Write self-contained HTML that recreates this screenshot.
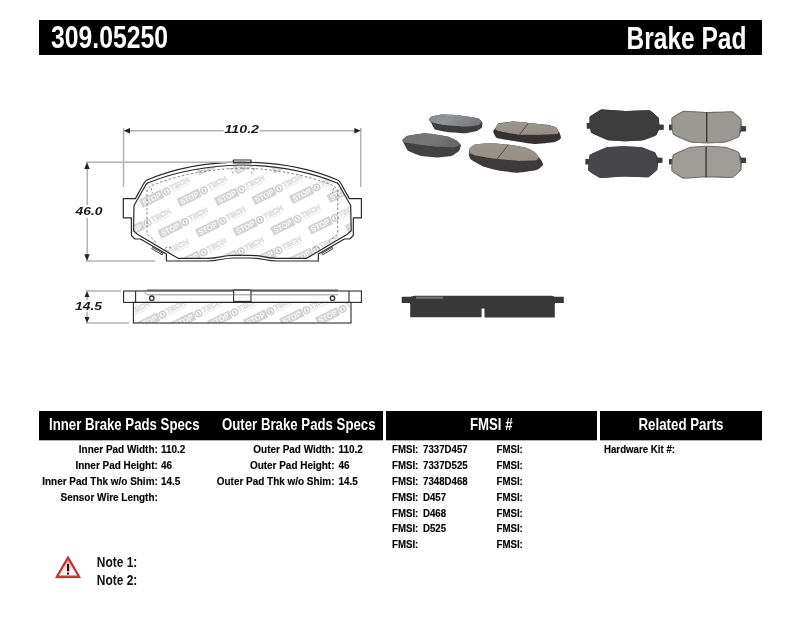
<!DOCTYPE html>
<html><head><meta charset="utf-8"><title>309.05250 Brake Pad</title>
<style>html,body{margin:0;padding:0;background:#fff;width:800px;height:619px;overflow:hidden}svg{display:block;will-change:transform}</style>
</head><body><svg width="800" height="619" viewBox="0 0 800 619" font-family='"Liberation Sans", sans-serif'><rect x="39" y="20" width="723" height="35" fill="#000"/><text x="51" y="47.6" font-size="30.5" font-weight="bold" font-style="normal" text-anchor="start" fill="#fff" textLength="117" lengthAdjust="spacingAndGlyphs">309.05250</text><text x="626.5" y="48.8" font-size="30.5" font-weight="bold" font-style="normal" text-anchor="start" fill="#fff" textLength="120" lengthAdjust="spacingAndGlyphs">Brake Pad</text><defs><clipPath id="padclip"><path d="M242.35 165 C210 165.5 176 171.5 147.5 183 L146 184.5 L134 205.5 L133.5 230.8 L137.4 234.2 L178 258.3 L207 258.3 C220 258.3 221 255.3 234 255.3 L242.35 255.3 Z"/><path d="M 242.35 165.00 C 274.70 165.50 308.70 171.50 337.20 183.00 L 338.70 184.50 L 350.70 205.50 L 351.20 230.80 L 347.30 234.20 L 306.70 258.30 L 277.70 258.30 C 264.70 258.30 263.70 255.30 250.70 255.30 L 242.35 255.30 Z"/></clipPath><clipPath id="sideclip"><rect x="133.4" y="302.4" width="217.6" height="20.6"/></clipPath></defs><g clip-path="url(#padclip)" font-family='"Liberation Sans", sans-serif'><g transform="translate(110.5 161.9) rotate(-26)"><rect x="-28.5" y="-4.3" width="24" height="8.8" fill="#d3d3d3"/><text x="-16.5" y="2.8" font-size="7.6" font-weight="bold" text-anchor="middle" fill="#fafafa" textLength="20" lengthAdjust="spacingAndGlyphs">STOP</text><circle cx="0" cy="0" r="3.3" fill="none" stroke="#cdcdcd" stroke-width="1.4"/><ellipse cx="0" cy="0" rx="1" ry="2" fill="#c4c4c4"/><text x="4.6" y="1.2" font-size="7.2" font-weight="bold" fill="#fff" stroke="#d2d2d2" stroke-width="0.55" textLength="21" lengthAdjust="spacingAndGlyphs">TECH</text><rect x="5" y="2.6" width="19" height="1.1" fill="#ebebeb"/></g><g transform="translate(148.0 160.9) rotate(-26)"><rect x="-28.5" y="-4.3" width="24" height="8.8" fill="#d3d3d3"/><text x="-16.5" y="2.8" font-size="7.6" font-weight="bold" text-anchor="middle" fill="#fafafa" textLength="20" lengthAdjust="spacingAndGlyphs">STOP</text><circle cx="0" cy="0" r="3.3" fill="none" stroke="#cdcdcd" stroke-width="1.4"/><ellipse cx="0" cy="0" rx="1" ry="2" fill="#c4c4c4"/><text x="4.6" y="1.2" font-size="7.2" font-weight="bold" fill="#fff" stroke="#d2d2d2" stroke-width="0.55" textLength="21" lengthAdjust="spacingAndGlyphs">TECH</text><rect x="5" y="2.6" width="19" height="1.1" fill="#ebebeb"/></g><g transform="translate(185.5 159.9) rotate(-26)"><rect x="-28.5" y="-4.3" width="24" height="8.8" fill="#d3d3d3"/><text x="-16.5" y="2.8" font-size="7.6" font-weight="bold" text-anchor="middle" fill="#fafafa" textLength="20" lengthAdjust="spacingAndGlyphs">STOP</text><circle cx="0" cy="0" r="3.3" fill="none" stroke="#cdcdcd" stroke-width="1.4"/><ellipse cx="0" cy="0" rx="1" ry="2" fill="#c4c4c4"/><text x="4.6" y="1.2" font-size="7.2" font-weight="bold" fill="#fff" stroke="#d2d2d2" stroke-width="0.55" textLength="21" lengthAdjust="spacingAndGlyphs">TECH</text><rect x="5" y="2.6" width="19" height="1.1" fill="#ebebeb"/></g><g transform="translate(223.0 158.9) rotate(-26)"><rect x="-28.5" y="-4.3" width="24" height="8.8" fill="#d3d3d3"/><text x="-16.5" y="2.8" font-size="7.6" font-weight="bold" text-anchor="middle" fill="#fafafa" textLength="20" lengthAdjust="spacingAndGlyphs">STOP</text><circle cx="0" cy="0" r="3.3" fill="none" stroke="#cdcdcd" stroke-width="1.4"/><ellipse cx="0" cy="0" rx="1" ry="2" fill="#c4c4c4"/><text x="4.6" y="1.2" font-size="7.2" font-weight="bold" fill="#fff" stroke="#d2d2d2" stroke-width="0.55" textLength="21" lengthAdjust="spacingAndGlyphs">TECH</text><rect x="5" y="2.6" width="19" height="1.1" fill="#ebebeb"/></g><g transform="translate(260.5 157.9) rotate(-26)"><rect x="-28.5" y="-4.3" width="24" height="8.8" fill="#d3d3d3"/><text x="-16.5" y="2.8" font-size="7.6" font-weight="bold" text-anchor="middle" fill="#fafafa" textLength="20" lengthAdjust="spacingAndGlyphs">STOP</text><circle cx="0" cy="0" r="3.3" fill="none" stroke="#cdcdcd" stroke-width="1.4"/><ellipse cx="0" cy="0" rx="1" ry="2" fill="#c4c4c4"/><text x="4.6" y="1.2" font-size="7.2" font-weight="bold" fill="#fff" stroke="#d2d2d2" stroke-width="0.55" textLength="21" lengthAdjust="spacingAndGlyphs">TECH</text><rect x="5" y="2.6" width="19" height="1.1" fill="#ebebeb"/></g><g transform="translate(298.0 156.9) rotate(-26)"><rect x="-28.5" y="-4.3" width="24" height="8.8" fill="#d3d3d3"/><text x="-16.5" y="2.8" font-size="7.6" font-weight="bold" text-anchor="middle" fill="#fafafa" textLength="20" lengthAdjust="spacingAndGlyphs">STOP</text><circle cx="0" cy="0" r="3.3" fill="none" stroke="#cdcdcd" stroke-width="1.4"/><ellipse cx="0" cy="0" rx="1" ry="2" fill="#c4c4c4"/><text x="4.6" y="1.2" font-size="7.2" font-weight="bold" fill="#fff" stroke="#d2d2d2" stroke-width="0.55" textLength="21" lengthAdjust="spacingAndGlyphs">TECH</text><rect x="5" y="2.6" width="19" height="1.1" fill="#ebebeb"/></g><g transform="translate(335.5 155.9) rotate(-26)"><rect x="-28.5" y="-4.3" width="24" height="8.8" fill="#d3d3d3"/><text x="-16.5" y="2.8" font-size="7.6" font-weight="bold" text-anchor="middle" fill="#fafafa" textLength="20" lengthAdjust="spacingAndGlyphs">STOP</text><circle cx="0" cy="0" r="3.3" fill="none" stroke="#cdcdcd" stroke-width="1.4"/><ellipse cx="0" cy="0" rx="1" ry="2" fill="#c4c4c4"/><text x="4.6" y="1.2" font-size="7.2" font-weight="bold" fill="#fff" stroke="#d2d2d2" stroke-width="0.55" textLength="21" lengthAdjust="spacingAndGlyphs">TECH</text><rect x="5" y="2.6" width="19" height="1.1" fill="#ebebeb"/></g><g transform="translate(373.0 154.9) rotate(-26)"><rect x="-28.5" y="-4.3" width="24" height="8.8" fill="#d3d3d3"/><text x="-16.5" y="2.8" font-size="7.6" font-weight="bold" text-anchor="middle" fill="#fafafa" textLength="20" lengthAdjust="spacingAndGlyphs">STOP</text><circle cx="0" cy="0" r="3.3" fill="none" stroke="#cdcdcd" stroke-width="1.4"/><ellipse cx="0" cy="0" rx="1" ry="2" fill="#c4c4c4"/><text x="4.6" y="1.2" font-size="7.2" font-weight="bold" fill="#fff" stroke="#d2d2d2" stroke-width="0.55" textLength="21" lengthAdjust="spacingAndGlyphs">TECH</text><rect x="5" y="2.6" width="19" height="1.1" fill="#ebebeb"/></g><g transform="translate(91.5 193.4) rotate(-26)"><rect x="-28.5" y="-4.3" width="24" height="8.8" fill="#d3d3d3"/><text x="-16.5" y="2.8" font-size="7.6" font-weight="bold" text-anchor="middle" fill="#fafafa" textLength="20" lengthAdjust="spacingAndGlyphs">STOP</text><circle cx="0" cy="0" r="3.3" fill="none" stroke="#cdcdcd" stroke-width="1.4"/><ellipse cx="0" cy="0" rx="1" ry="2" fill="#c4c4c4"/><text x="4.6" y="1.2" font-size="7.2" font-weight="bold" fill="#fff" stroke="#d2d2d2" stroke-width="0.55" textLength="21" lengthAdjust="spacingAndGlyphs">TECH</text><rect x="5" y="2.6" width="19" height="1.1" fill="#ebebeb"/></g><g transform="translate(129.0 192.4) rotate(-26)"><rect x="-28.5" y="-4.3" width="24" height="8.8" fill="#d3d3d3"/><text x="-16.5" y="2.8" font-size="7.6" font-weight="bold" text-anchor="middle" fill="#fafafa" textLength="20" lengthAdjust="spacingAndGlyphs">STOP</text><circle cx="0" cy="0" r="3.3" fill="none" stroke="#cdcdcd" stroke-width="1.4"/><ellipse cx="0" cy="0" rx="1" ry="2" fill="#c4c4c4"/><text x="4.6" y="1.2" font-size="7.2" font-weight="bold" fill="#fff" stroke="#d2d2d2" stroke-width="0.55" textLength="21" lengthAdjust="spacingAndGlyphs">TECH</text><rect x="5" y="2.6" width="19" height="1.1" fill="#ebebeb"/></g><g transform="translate(166.5 191.4) rotate(-26)"><rect x="-28.5" y="-4.3" width="24" height="8.8" fill="#d3d3d3"/><text x="-16.5" y="2.8" font-size="7.6" font-weight="bold" text-anchor="middle" fill="#fafafa" textLength="20" lengthAdjust="spacingAndGlyphs">STOP</text><circle cx="0" cy="0" r="3.3" fill="none" stroke="#cdcdcd" stroke-width="1.4"/><ellipse cx="0" cy="0" rx="1" ry="2" fill="#c4c4c4"/><text x="4.6" y="1.2" font-size="7.2" font-weight="bold" fill="#fff" stroke="#d2d2d2" stroke-width="0.55" textLength="21" lengthAdjust="spacingAndGlyphs">TECH</text><rect x="5" y="2.6" width="19" height="1.1" fill="#ebebeb"/></g><g transform="translate(204.0 190.4) rotate(-26)"><rect x="-28.5" y="-4.3" width="24" height="8.8" fill="#d3d3d3"/><text x="-16.5" y="2.8" font-size="7.6" font-weight="bold" text-anchor="middle" fill="#fafafa" textLength="20" lengthAdjust="spacingAndGlyphs">STOP</text><circle cx="0" cy="0" r="3.3" fill="none" stroke="#cdcdcd" stroke-width="1.4"/><ellipse cx="0" cy="0" rx="1" ry="2" fill="#c4c4c4"/><text x="4.6" y="1.2" font-size="7.2" font-weight="bold" fill="#fff" stroke="#d2d2d2" stroke-width="0.55" textLength="21" lengthAdjust="spacingAndGlyphs">TECH</text><rect x="5" y="2.6" width="19" height="1.1" fill="#ebebeb"/></g><g transform="translate(241.5 189.4) rotate(-26)"><rect x="-28.5" y="-4.3" width="24" height="8.8" fill="#d3d3d3"/><text x="-16.5" y="2.8" font-size="7.6" font-weight="bold" text-anchor="middle" fill="#fafafa" textLength="20" lengthAdjust="spacingAndGlyphs">STOP</text><circle cx="0" cy="0" r="3.3" fill="none" stroke="#cdcdcd" stroke-width="1.4"/><ellipse cx="0" cy="0" rx="1" ry="2" fill="#c4c4c4"/><text x="4.6" y="1.2" font-size="7.2" font-weight="bold" fill="#fff" stroke="#d2d2d2" stroke-width="0.55" textLength="21" lengthAdjust="spacingAndGlyphs">TECH</text><rect x="5" y="2.6" width="19" height="1.1" fill="#ebebeb"/></g><g transform="translate(279.0 188.4) rotate(-26)"><rect x="-28.5" y="-4.3" width="24" height="8.8" fill="#d3d3d3"/><text x="-16.5" y="2.8" font-size="7.6" font-weight="bold" text-anchor="middle" fill="#fafafa" textLength="20" lengthAdjust="spacingAndGlyphs">STOP</text><circle cx="0" cy="0" r="3.3" fill="none" stroke="#cdcdcd" stroke-width="1.4"/><ellipse cx="0" cy="0" rx="1" ry="2" fill="#c4c4c4"/><text x="4.6" y="1.2" font-size="7.2" font-weight="bold" fill="#fff" stroke="#d2d2d2" stroke-width="0.55" textLength="21" lengthAdjust="spacingAndGlyphs">TECH</text><rect x="5" y="2.6" width="19" height="1.1" fill="#ebebeb"/></g><g transform="translate(316.5 187.4) rotate(-26)"><rect x="-28.5" y="-4.3" width="24" height="8.8" fill="#d3d3d3"/><text x="-16.5" y="2.8" font-size="7.6" font-weight="bold" text-anchor="middle" fill="#fafafa" textLength="20" lengthAdjust="spacingAndGlyphs">STOP</text><circle cx="0" cy="0" r="3.3" fill="none" stroke="#cdcdcd" stroke-width="1.4"/><ellipse cx="0" cy="0" rx="1" ry="2" fill="#c4c4c4"/><text x="4.6" y="1.2" font-size="7.2" font-weight="bold" fill="#fff" stroke="#d2d2d2" stroke-width="0.55" textLength="21" lengthAdjust="spacingAndGlyphs">TECH</text><rect x="5" y="2.6" width="19" height="1.1" fill="#ebebeb"/></g><g transform="translate(354.0 186.4) rotate(-26)"><rect x="-28.5" y="-4.3" width="24" height="8.8" fill="#d3d3d3"/><text x="-16.5" y="2.8" font-size="7.6" font-weight="bold" text-anchor="middle" fill="#fafafa" textLength="20" lengthAdjust="spacingAndGlyphs">STOP</text><circle cx="0" cy="0" r="3.3" fill="none" stroke="#cdcdcd" stroke-width="1.4"/><ellipse cx="0" cy="0" rx="1" ry="2" fill="#c4c4c4"/><text x="4.6" y="1.2" font-size="7.2" font-weight="bold" fill="#fff" stroke="#d2d2d2" stroke-width="0.55" textLength="21" lengthAdjust="spacingAndGlyphs">TECH</text><rect x="5" y="2.6" width="19" height="1.1" fill="#ebebeb"/></g><g transform="translate(391.5 185.4) rotate(-26)"><rect x="-28.5" y="-4.3" width="24" height="8.8" fill="#d3d3d3"/><text x="-16.5" y="2.8" font-size="7.6" font-weight="bold" text-anchor="middle" fill="#fafafa" textLength="20" lengthAdjust="spacingAndGlyphs">STOP</text><circle cx="0" cy="0" r="3.3" fill="none" stroke="#cdcdcd" stroke-width="1.4"/><ellipse cx="0" cy="0" rx="1" ry="2" fill="#c4c4c4"/><text x="4.6" y="1.2" font-size="7.2" font-weight="bold" fill="#fff" stroke="#d2d2d2" stroke-width="0.55" textLength="21" lengthAdjust="spacingAndGlyphs">TECH</text><rect x="5" y="2.6" width="19" height="1.1" fill="#ebebeb"/></g><g transform="translate(110.0 223.9) rotate(-26)"><rect x="-28.5" y="-4.3" width="24" height="8.8" fill="#d3d3d3"/><text x="-16.5" y="2.8" font-size="7.6" font-weight="bold" text-anchor="middle" fill="#fafafa" textLength="20" lengthAdjust="spacingAndGlyphs">STOP</text><circle cx="0" cy="0" r="3.3" fill="none" stroke="#cdcdcd" stroke-width="1.4"/><ellipse cx="0" cy="0" rx="1" ry="2" fill="#c4c4c4"/><text x="4.6" y="1.2" font-size="7.2" font-weight="bold" fill="#fff" stroke="#d2d2d2" stroke-width="0.55" textLength="21" lengthAdjust="spacingAndGlyphs">TECH</text><rect x="5" y="2.6" width="19" height="1.1" fill="#ebebeb"/></g><g transform="translate(147.5 222.9) rotate(-26)"><rect x="-28.5" y="-4.3" width="24" height="8.8" fill="#d3d3d3"/><text x="-16.5" y="2.8" font-size="7.6" font-weight="bold" text-anchor="middle" fill="#fafafa" textLength="20" lengthAdjust="spacingAndGlyphs">STOP</text><circle cx="0" cy="0" r="3.3" fill="none" stroke="#cdcdcd" stroke-width="1.4"/><ellipse cx="0" cy="0" rx="1" ry="2" fill="#c4c4c4"/><text x="4.6" y="1.2" font-size="7.2" font-weight="bold" fill="#fff" stroke="#d2d2d2" stroke-width="0.55" textLength="21" lengthAdjust="spacingAndGlyphs">TECH</text><rect x="5" y="2.6" width="19" height="1.1" fill="#ebebeb"/></g><g transform="translate(185.0 221.9) rotate(-26)"><rect x="-28.5" y="-4.3" width="24" height="8.8" fill="#d3d3d3"/><text x="-16.5" y="2.8" font-size="7.6" font-weight="bold" text-anchor="middle" fill="#fafafa" textLength="20" lengthAdjust="spacingAndGlyphs">STOP</text><circle cx="0" cy="0" r="3.3" fill="none" stroke="#cdcdcd" stroke-width="1.4"/><ellipse cx="0" cy="0" rx="1" ry="2" fill="#c4c4c4"/><text x="4.6" y="1.2" font-size="7.2" font-weight="bold" fill="#fff" stroke="#d2d2d2" stroke-width="0.55" textLength="21" lengthAdjust="spacingAndGlyphs">TECH</text><rect x="5" y="2.6" width="19" height="1.1" fill="#ebebeb"/></g><g transform="translate(222.5 220.9) rotate(-26)"><rect x="-28.5" y="-4.3" width="24" height="8.8" fill="#d3d3d3"/><text x="-16.5" y="2.8" font-size="7.6" font-weight="bold" text-anchor="middle" fill="#fafafa" textLength="20" lengthAdjust="spacingAndGlyphs">STOP</text><circle cx="0" cy="0" r="3.3" fill="none" stroke="#cdcdcd" stroke-width="1.4"/><ellipse cx="0" cy="0" rx="1" ry="2" fill="#c4c4c4"/><text x="4.6" y="1.2" font-size="7.2" font-weight="bold" fill="#fff" stroke="#d2d2d2" stroke-width="0.55" textLength="21" lengthAdjust="spacingAndGlyphs">TECH</text><rect x="5" y="2.6" width="19" height="1.1" fill="#ebebeb"/></g><g transform="translate(260.0 219.9) rotate(-26)"><rect x="-28.5" y="-4.3" width="24" height="8.8" fill="#d3d3d3"/><text x="-16.5" y="2.8" font-size="7.6" font-weight="bold" text-anchor="middle" fill="#fafafa" textLength="20" lengthAdjust="spacingAndGlyphs">STOP</text><circle cx="0" cy="0" r="3.3" fill="none" stroke="#cdcdcd" stroke-width="1.4"/><ellipse cx="0" cy="0" rx="1" ry="2" fill="#c4c4c4"/><text x="4.6" y="1.2" font-size="7.2" font-weight="bold" fill="#fff" stroke="#d2d2d2" stroke-width="0.55" textLength="21" lengthAdjust="spacingAndGlyphs">TECH</text><rect x="5" y="2.6" width="19" height="1.1" fill="#ebebeb"/></g><g transform="translate(297.5 218.9) rotate(-26)"><rect x="-28.5" y="-4.3" width="24" height="8.8" fill="#d3d3d3"/><text x="-16.5" y="2.8" font-size="7.6" font-weight="bold" text-anchor="middle" fill="#fafafa" textLength="20" lengthAdjust="spacingAndGlyphs">STOP</text><circle cx="0" cy="0" r="3.3" fill="none" stroke="#cdcdcd" stroke-width="1.4"/><ellipse cx="0" cy="0" rx="1" ry="2" fill="#c4c4c4"/><text x="4.6" y="1.2" font-size="7.2" font-weight="bold" fill="#fff" stroke="#d2d2d2" stroke-width="0.55" textLength="21" lengthAdjust="spacingAndGlyphs">TECH</text><rect x="5" y="2.6" width="19" height="1.1" fill="#ebebeb"/></g><g transform="translate(335.0 217.9) rotate(-26)"><rect x="-28.5" y="-4.3" width="24" height="8.8" fill="#d3d3d3"/><text x="-16.5" y="2.8" font-size="7.6" font-weight="bold" text-anchor="middle" fill="#fafafa" textLength="20" lengthAdjust="spacingAndGlyphs">STOP</text><circle cx="0" cy="0" r="3.3" fill="none" stroke="#cdcdcd" stroke-width="1.4"/><ellipse cx="0" cy="0" rx="1" ry="2" fill="#c4c4c4"/><text x="4.6" y="1.2" font-size="7.2" font-weight="bold" fill="#fff" stroke="#d2d2d2" stroke-width="0.55" textLength="21" lengthAdjust="spacingAndGlyphs">TECH</text><rect x="5" y="2.6" width="19" height="1.1" fill="#ebebeb"/></g><g transform="translate(372.5 216.9) rotate(-26)"><rect x="-28.5" y="-4.3" width="24" height="8.8" fill="#d3d3d3"/><text x="-16.5" y="2.8" font-size="7.6" font-weight="bold" text-anchor="middle" fill="#fafafa" textLength="20" lengthAdjust="spacingAndGlyphs">STOP</text><circle cx="0" cy="0" r="3.3" fill="none" stroke="#cdcdcd" stroke-width="1.4"/><ellipse cx="0" cy="0" rx="1" ry="2" fill="#c4c4c4"/><text x="4.6" y="1.2" font-size="7.2" font-weight="bold" fill="#fff" stroke="#d2d2d2" stroke-width="0.55" textLength="21" lengthAdjust="spacingAndGlyphs">TECH</text><rect x="5" y="2.6" width="19" height="1.1" fill="#ebebeb"/></g><g transform="translate(91.0 255.4) rotate(-26)"><rect x="-28.5" y="-4.3" width="24" height="8.8" fill="#d3d3d3"/><text x="-16.5" y="2.8" font-size="7.6" font-weight="bold" text-anchor="middle" fill="#fafafa" textLength="20" lengthAdjust="spacingAndGlyphs">STOP</text><circle cx="0" cy="0" r="3.3" fill="none" stroke="#cdcdcd" stroke-width="1.4"/><ellipse cx="0" cy="0" rx="1" ry="2" fill="#c4c4c4"/><text x="4.6" y="1.2" font-size="7.2" font-weight="bold" fill="#fff" stroke="#d2d2d2" stroke-width="0.55" textLength="21" lengthAdjust="spacingAndGlyphs">TECH</text><rect x="5" y="2.6" width="19" height="1.1" fill="#ebebeb"/></g><g transform="translate(128.5 254.4) rotate(-26)"><rect x="-28.5" y="-4.3" width="24" height="8.8" fill="#d3d3d3"/><text x="-16.5" y="2.8" font-size="7.6" font-weight="bold" text-anchor="middle" fill="#fafafa" textLength="20" lengthAdjust="spacingAndGlyphs">STOP</text><circle cx="0" cy="0" r="3.3" fill="none" stroke="#cdcdcd" stroke-width="1.4"/><ellipse cx="0" cy="0" rx="1" ry="2" fill="#c4c4c4"/><text x="4.6" y="1.2" font-size="7.2" font-weight="bold" fill="#fff" stroke="#d2d2d2" stroke-width="0.55" textLength="21" lengthAdjust="spacingAndGlyphs">TECH</text><rect x="5" y="2.6" width="19" height="1.1" fill="#ebebeb"/></g><g transform="translate(166.0 253.4) rotate(-26)"><rect x="-28.5" y="-4.3" width="24" height="8.8" fill="#d3d3d3"/><text x="-16.5" y="2.8" font-size="7.6" font-weight="bold" text-anchor="middle" fill="#fafafa" textLength="20" lengthAdjust="spacingAndGlyphs">STOP</text><circle cx="0" cy="0" r="3.3" fill="none" stroke="#cdcdcd" stroke-width="1.4"/><ellipse cx="0" cy="0" rx="1" ry="2" fill="#c4c4c4"/><text x="4.6" y="1.2" font-size="7.2" font-weight="bold" fill="#fff" stroke="#d2d2d2" stroke-width="0.55" textLength="21" lengthAdjust="spacingAndGlyphs">TECH</text><rect x="5" y="2.6" width="19" height="1.1" fill="#ebebeb"/></g><g transform="translate(203.5 252.4) rotate(-26)"><rect x="-28.5" y="-4.3" width="24" height="8.8" fill="#d3d3d3"/><text x="-16.5" y="2.8" font-size="7.6" font-weight="bold" text-anchor="middle" fill="#fafafa" textLength="20" lengthAdjust="spacingAndGlyphs">STOP</text><circle cx="0" cy="0" r="3.3" fill="none" stroke="#cdcdcd" stroke-width="1.4"/><ellipse cx="0" cy="0" rx="1" ry="2" fill="#c4c4c4"/><text x="4.6" y="1.2" font-size="7.2" font-weight="bold" fill="#fff" stroke="#d2d2d2" stroke-width="0.55" textLength="21" lengthAdjust="spacingAndGlyphs">TECH</text><rect x="5" y="2.6" width="19" height="1.1" fill="#ebebeb"/></g><g transform="translate(241.0 251.4) rotate(-26)"><rect x="-28.5" y="-4.3" width="24" height="8.8" fill="#d3d3d3"/><text x="-16.5" y="2.8" font-size="7.6" font-weight="bold" text-anchor="middle" fill="#fafafa" textLength="20" lengthAdjust="spacingAndGlyphs">STOP</text><circle cx="0" cy="0" r="3.3" fill="none" stroke="#cdcdcd" stroke-width="1.4"/><ellipse cx="0" cy="0" rx="1" ry="2" fill="#c4c4c4"/><text x="4.6" y="1.2" font-size="7.2" font-weight="bold" fill="#fff" stroke="#d2d2d2" stroke-width="0.55" textLength="21" lengthAdjust="spacingAndGlyphs">TECH</text><rect x="5" y="2.6" width="19" height="1.1" fill="#ebebeb"/></g><g transform="translate(278.5 250.4) rotate(-26)"><rect x="-28.5" y="-4.3" width="24" height="8.8" fill="#d3d3d3"/><text x="-16.5" y="2.8" font-size="7.6" font-weight="bold" text-anchor="middle" fill="#fafafa" textLength="20" lengthAdjust="spacingAndGlyphs">STOP</text><circle cx="0" cy="0" r="3.3" fill="none" stroke="#cdcdcd" stroke-width="1.4"/><ellipse cx="0" cy="0" rx="1" ry="2" fill="#c4c4c4"/><text x="4.6" y="1.2" font-size="7.2" font-weight="bold" fill="#fff" stroke="#d2d2d2" stroke-width="0.55" textLength="21" lengthAdjust="spacingAndGlyphs">TECH</text><rect x="5" y="2.6" width="19" height="1.1" fill="#ebebeb"/></g><g transform="translate(316.0 249.4) rotate(-26)"><rect x="-28.5" y="-4.3" width="24" height="8.8" fill="#d3d3d3"/><text x="-16.5" y="2.8" font-size="7.6" font-weight="bold" text-anchor="middle" fill="#fafafa" textLength="20" lengthAdjust="spacingAndGlyphs">STOP</text><circle cx="0" cy="0" r="3.3" fill="none" stroke="#cdcdcd" stroke-width="1.4"/><ellipse cx="0" cy="0" rx="1" ry="2" fill="#c4c4c4"/><text x="4.6" y="1.2" font-size="7.2" font-weight="bold" fill="#fff" stroke="#d2d2d2" stroke-width="0.55" textLength="21" lengthAdjust="spacingAndGlyphs">TECH</text><rect x="5" y="2.6" width="19" height="1.1" fill="#ebebeb"/></g><g transform="translate(353.5 248.4) rotate(-26)"><rect x="-28.5" y="-4.3" width="24" height="8.8" fill="#d3d3d3"/><text x="-16.5" y="2.8" font-size="7.6" font-weight="bold" text-anchor="middle" fill="#fafafa" textLength="20" lengthAdjust="spacingAndGlyphs">STOP</text><circle cx="0" cy="0" r="3.3" fill="none" stroke="#cdcdcd" stroke-width="1.4"/><ellipse cx="0" cy="0" rx="1" ry="2" fill="#c4c4c4"/><text x="4.6" y="1.2" font-size="7.2" font-weight="bold" fill="#fff" stroke="#d2d2d2" stroke-width="0.55" textLength="21" lengthAdjust="spacingAndGlyphs">TECH</text><rect x="5" y="2.6" width="19" height="1.1" fill="#ebebeb"/></g><g transform="translate(391.0 247.4) rotate(-26)"><rect x="-28.5" y="-4.3" width="24" height="8.8" fill="#d3d3d3"/><text x="-16.5" y="2.8" font-size="7.6" font-weight="bold" text-anchor="middle" fill="#fafafa" textLength="20" lengthAdjust="spacingAndGlyphs">STOP</text><circle cx="0" cy="0" r="3.3" fill="none" stroke="#cdcdcd" stroke-width="1.4"/><ellipse cx="0" cy="0" rx="1" ry="2" fill="#c4c4c4"/><text x="4.6" y="1.2" font-size="7.2" font-weight="bold" fill="#fff" stroke="#d2d2d2" stroke-width="0.55" textLength="21" lengthAdjust="spacingAndGlyphs">TECH</text><rect x="5" y="2.6" width="19" height="1.1" fill="#ebebeb"/></g><g transform="translate(109.5 285.9) rotate(-26)"><rect x="-28.5" y="-4.3" width="24" height="8.8" fill="#d3d3d3"/><text x="-16.5" y="2.8" font-size="7.6" font-weight="bold" text-anchor="middle" fill="#fafafa" textLength="20" lengthAdjust="spacingAndGlyphs">STOP</text><circle cx="0" cy="0" r="3.3" fill="none" stroke="#cdcdcd" stroke-width="1.4"/><ellipse cx="0" cy="0" rx="1" ry="2" fill="#c4c4c4"/><text x="4.6" y="1.2" font-size="7.2" font-weight="bold" fill="#fff" stroke="#d2d2d2" stroke-width="0.55" textLength="21" lengthAdjust="spacingAndGlyphs">TECH</text><rect x="5" y="2.6" width="19" height="1.1" fill="#ebebeb"/></g><g transform="translate(147.0 284.9) rotate(-26)"><rect x="-28.5" y="-4.3" width="24" height="8.8" fill="#d3d3d3"/><text x="-16.5" y="2.8" font-size="7.6" font-weight="bold" text-anchor="middle" fill="#fafafa" textLength="20" lengthAdjust="spacingAndGlyphs">STOP</text><circle cx="0" cy="0" r="3.3" fill="none" stroke="#cdcdcd" stroke-width="1.4"/><ellipse cx="0" cy="0" rx="1" ry="2" fill="#c4c4c4"/><text x="4.6" y="1.2" font-size="7.2" font-weight="bold" fill="#fff" stroke="#d2d2d2" stroke-width="0.55" textLength="21" lengthAdjust="spacingAndGlyphs">TECH</text><rect x="5" y="2.6" width="19" height="1.1" fill="#ebebeb"/></g><g transform="translate(184.5 283.9) rotate(-26)"><rect x="-28.5" y="-4.3" width="24" height="8.8" fill="#d3d3d3"/><text x="-16.5" y="2.8" font-size="7.6" font-weight="bold" text-anchor="middle" fill="#fafafa" textLength="20" lengthAdjust="spacingAndGlyphs">STOP</text><circle cx="0" cy="0" r="3.3" fill="none" stroke="#cdcdcd" stroke-width="1.4"/><ellipse cx="0" cy="0" rx="1" ry="2" fill="#c4c4c4"/><text x="4.6" y="1.2" font-size="7.2" font-weight="bold" fill="#fff" stroke="#d2d2d2" stroke-width="0.55" textLength="21" lengthAdjust="spacingAndGlyphs">TECH</text><rect x="5" y="2.6" width="19" height="1.1" fill="#ebebeb"/></g><g transform="translate(222.0 282.9) rotate(-26)"><rect x="-28.5" y="-4.3" width="24" height="8.8" fill="#d3d3d3"/><text x="-16.5" y="2.8" font-size="7.6" font-weight="bold" text-anchor="middle" fill="#fafafa" textLength="20" lengthAdjust="spacingAndGlyphs">STOP</text><circle cx="0" cy="0" r="3.3" fill="none" stroke="#cdcdcd" stroke-width="1.4"/><ellipse cx="0" cy="0" rx="1" ry="2" fill="#c4c4c4"/><text x="4.6" y="1.2" font-size="7.2" font-weight="bold" fill="#fff" stroke="#d2d2d2" stroke-width="0.55" textLength="21" lengthAdjust="spacingAndGlyphs">TECH</text><rect x="5" y="2.6" width="19" height="1.1" fill="#ebebeb"/></g><g transform="translate(259.5 281.9) rotate(-26)"><rect x="-28.5" y="-4.3" width="24" height="8.8" fill="#d3d3d3"/><text x="-16.5" y="2.8" font-size="7.6" font-weight="bold" text-anchor="middle" fill="#fafafa" textLength="20" lengthAdjust="spacingAndGlyphs">STOP</text><circle cx="0" cy="0" r="3.3" fill="none" stroke="#cdcdcd" stroke-width="1.4"/><ellipse cx="0" cy="0" rx="1" ry="2" fill="#c4c4c4"/><text x="4.6" y="1.2" font-size="7.2" font-weight="bold" fill="#fff" stroke="#d2d2d2" stroke-width="0.55" textLength="21" lengthAdjust="spacingAndGlyphs">TECH</text><rect x="5" y="2.6" width="19" height="1.1" fill="#ebebeb"/></g><g transform="translate(297.0 280.9) rotate(-26)"><rect x="-28.5" y="-4.3" width="24" height="8.8" fill="#d3d3d3"/><text x="-16.5" y="2.8" font-size="7.6" font-weight="bold" text-anchor="middle" fill="#fafafa" textLength="20" lengthAdjust="spacingAndGlyphs">STOP</text><circle cx="0" cy="0" r="3.3" fill="none" stroke="#cdcdcd" stroke-width="1.4"/><ellipse cx="0" cy="0" rx="1" ry="2" fill="#c4c4c4"/><text x="4.6" y="1.2" font-size="7.2" font-weight="bold" fill="#fff" stroke="#d2d2d2" stroke-width="0.55" textLength="21" lengthAdjust="spacingAndGlyphs">TECH</text><rect x="5" y="2.6" width="19" height="1.1" fill="#ebebeb"/></g><g transform="translate(334.5 279.9) rotate(-26)"><rect x="-28.5" y="-4.3" width="24" height="8.8" fill="#d3d3d3"/><text x="-16.5" y="2.8" font-size="7.6" font-weight="bold" text-anchor="middle" fill="#fafafa" textLength="20" lengthAdjust="spacingAndGlyphs">STOP</text><circle cx="0" cy="0" r="3.3" fill="none" stroke="#cdcdcd" stroke-width="1.4"/><ellipse cx="0" cy="0" rx="1" ry="2" fill="#c4c4c4"/><text x="4.6" y="1.2" font-size="7.2" font-weight="bold" fill="#fff" stroke="#d2d2d2" stroke-width="0.55" textLength="21" lengthAdjust="spacingAndGlyphs">TECH</text><rect x="5" y="2.6" width="19" height="1.1" fill="#ebebeb"/></g><g transform="translate(372.0 278.9) rotate(-26)"><rect x="-28.5" y="-4.3" width="24" height="8.8" fill="#d3d3d3"/><text x="-16.5" y="2.8" font-size="7.6" font-weight="bold" text-anchor="middle" fill="#fafafa" textLength="20" lengthAdjust="spacingAndGlyphs">STOP</text><circle cx="0" cy="0" r="3.3" fill="none" stroke="#cdcdcd" stroke-width="1.4"/><ellipse cx="0" cy="0" rx="1" ry="2" fill="#c4c4c4"/><text x="4.6" y="1.2" font-size="7.2" font-weight="bold" fill="#fff" stroke="#d2d2d2" stroke-width="0.55" textLength="21" lengthAdjust="spacingAndGlyphs">TECH</text><rect x="5" y="2.6" width="19" height="1.1" fill="#ebebeb"/></g><g transform="translate(90.5 317.4) rotate(-26)"><rect x="-28.5" y="-4.3" width="24" height="8.8" fill="#d3d3d3"/><text x="-16.5" y="2.8" font-size="7.6" font-weight="bold" text-anchor="middle" fill="#fafafa" textLength="20" lengthAdjust="spacingAndGlyphs">STOP</text><circle cx="0" cy="0" r="3.3" fill="none" stroke="#cdcdcd" stroke-width="1.4"/><ellipse cx="0" cy="0" rx="1" ry="2" fill="#c4c4c4"/><text x="4.6" y="1.2" font-size="7.2" font-weight="bold" fill="#fff" stroke="#d2d2d2" stroke-width="0.55" textLength="21" lengthAdjust="spacingAndGlyphs">TECH</text><rect x="5" y="2.6" width="19" height="1.1" fill="#ebebeb"/></g><g transform="translate(128.0 316.4) rotate(-26)"><rect x="-28.5" y="-4.3" width="24" height="8.8" fill="#d3d3d3"/><text x="-16.5" y="2.8" font-size="7.6" font-weight="bold" text-anchor="middle" fill="#fafafa" textLength="20" lengthAdjust="spacingAndGlyphs">STOP</text><circle cx="0" cy="0" r="3.3" fill="none" stroke="#cdcdcd" stroke-width="1.4"/><ellipse cx="0" cy="0" rx="1" ry="2" fill="#c4c4c4"/><text x="4.6" y="1.2" font-size="7.2" font-weight="bold" fill="#fff" stroke="#d2d2d2" stroke-width="0.55" textLength="21" lengthAdjust="spacingAndGlyphs">TECH</text><rect x="5" y="2.6" width="19" height="1.1" fill="#ebebeb"/></g><g transform="translate(165.5 315.4) rotate(-26)"><rect x="-28.5" y="-4.3" width="24" height="8.8" fill="#d3d3d3"/><text x="-16.5" y="2.8" font-size="7.6" font-weight="bold" text-anchor="middle" fill="#fafafa" textLength="20" lengthAdjust="spacingAndGlyphs">STOP</text><circle cx="0" cy="0" r="3.3" fill="none" stroke="#cdcdcd" stroke-width="1.4"/><ellipse cx="0" cy="0" rx="1" ry="2" fill="#c4c4c4"/><text x="4.6" y="1.2" font-size="7.2" font-weight="bold" fill="#fff" stroke="#d2d2d2" stroke-width="0.55" textLength="21" lengthAdjust="spacingAndGlyphs">TECH</text><rect x="5" y="2.6" width="19" height="1.1" fill="#ebebeb"/></g><g transform="translate(203.0 314.4) rotate(-26)"><rect x="-28.5" y="-4.3" width="24" height="8.8" fill="#d3d3d3"/><text x="-16.5" y="2.8" font-size="7.6" font-weight="bold" text-anchor="middle" fill="#fafafa" textLength="20" lengthAdjust="spacingAndGlyphs">STOP</text><circle cx="0" cy="0" r="3.3" fill="none" stroke="#cdcdcd" stroke-width="1.4"/><ellipse cx="0" cy="0" rx="1" ry="2" fill="#c4c4c4"/><text x="4.6" y="1.2" font-size="7.2" font-weight="bold" fill="#fff" stroke="#d2d2d2" stroke-width="0.55" textLength="21" lengthAdjust="spacingAndGlyphs">TECH</text><rect x="5" y="2.6" width="19" height="1.1" fill="#ebebeb"/></g><g transform="translate(240.5 313.4) rotate(-26)"><rect x="-28.5" y="-4.3" width="24" height="8.8" fill="#d3d3d3"/><text x="-16.5" y="2.8" font-size="7.6" font-weight="bold" text-anchor="middle" fill="#fafafa" textLength="20" lengthAdjust="spacingAndGlyphs">STOP</text><circle cx="0" cy="0" r="3.3" fill="none" stroke="#cdcdcd" stroke-width="1.4"/><ellipse cx="0" cy="0" rx="1" ry="2" fill="#c4c4c4"/><text x="4.6" y="1.2" font-size="7.2" font-weight="bold" fill="#fff" stroke="#d2d2d2" stroke-width="0.55" textLength="21" lengthAdjust="spacingAndGlyphs">TECH</text><rect x="5" y="2.6" width="19" height="1.1" fill="#ebebeb"/></g><g transform="translate(278.0 312.4) rotate(-26)"><rect x="-28.5" y="-4.3" width="24" height="8.8" fill="#d3d3d3"/><text x="-16.5" y="2.8" font-size="7.6" font-weight="bold" text-anchor="middle" fill="#fafafa" textLength="20" lengthAdjust="spacingAndGlyphs">STOP</text><circle cx="0" cy="0" r="3.3" fill="none" stroke="#cdcdcd" stroke-width="1.4"/><ellipse cx="0" cy="0" rx="1" ry="2" fill="#c4c4c4"/><text x="4.6" y="1.2" font-size="7.2" font-weight="bold" fill="#fff" stroke="#d2d2d2" stroke-width="0.55" textLength="21" lengthAdjust="spacingAndGlyphs">TECH</text><rect x="5" y="2.6" width="19" height="1.1" fill="#ebebeb"/></g><g transform="translate(315.5 311.4) rotate(-26)"><rect x="-28.5" y="-4.3" width="24" height="8.8" fill="#d3d3d3"/><text x="-16.5" y="2.8" font-size="7.6" font-weight="bold" text-anchor="middle" fill="#fafafa" textLength="20" lengthAdjust="spacingAndGlyphs">STOP</text><circle cx="0" cy="0" r="3.3" fill="none" stroke="#cdcdcd" stroke-width="1.4"/><ellipse cx="0" cy="0" rx="1" ry="2" fill="#c4c4c4"/><text x="4.6" y="1.2" font-size="7.2" font-weight="bold" fill="#fff" stroke="#d2d2d2" stroke-width="0.55" textLength="21" lengthAdjust="spacingAndGlyphs">TECH</text><rect x="5" y="2.6" width="19" height="1.1" fill="#ebebeb"/></g><g transform="translate(353.0 310.4) rotate(-26)"><rect x="-28.5" y="-4.3" width="24" height="8.8" fill="#d3d3d3"/><text x="-16.5" y="2.8" font-size="7.6" font-weight="bold" text-anchor="middle" fill="#fafafa" textLength="20" lengthAdjust="spacingAndGlyphs">STOP</text><circle cx="0" cy="0" r="3.3" fill="none" stroke="#cdcdcd" stroke-width="1.4"/><ellipse cx="0" cy="0" rx="1" ry="2" fill="#c4c4c4"/><text x="4.6" y="1.2" font-size="7.2" font-weight="bold" fill="#fff" stroke="#d2d2d2" stroke-width="0.55" textLength="21" lengthAdjust="spacingAndGlyphs">TECH</text><rect x="5" y="2.6" width="19" height="1.1" fill="#ebebeb"/></g><g transform="translate(390.5 309.4) rotate(-26)"><rect x="-28.5" y="-4.3" width="24" height="8.8" fill="#d3d3d3"/><text x="-16.5" y="2.8" font-size="7.6" font-weight="bold" text-anchor="middle" fill="#fafafa" textLength="20" lengthAdjust="spacingAndGlyphs">STOP</text><circle cx="0" cy="0" r="3.3" fill="none" stroke="#cdcdcd" stroke-width="1.4"/><ellipse cx="0" cy="0" rx="1" ry="2" fill="#c4c4c4"/><text x="4.6" y="1.2" font-size="7.2" font-weight="bold" fill="#fff" stroke="#d2d2d2" stroke-width="0.55" textLength="21" lengthAdjust="spacingAndGlyphs">TECH</text><rect x="5" y="2.6" width="19" height="1.1" fill="#ebebeb"/></g></g><g clip-path="url(#sideclip)"><g transform="translate(90.5 316.7) rotate(-26)"><rect x="-28.5" y="-4.3" width="24" height="8.8" fill="#d3d3d3"/><text x="-16.5" y="2.8" font-size="7.6" font-weight="bold" text-anchor="middle" fill="#fafafa" textLength="20" lengthAdjust="spacingAndGlyphs">STOP</text><circle cx="0" cy="0" r="3.3" fill="none" stroke="#cdcdcd" stroke-width="1.4"/><ellipse cx="0" cy="0" rx="1" ry="2" fill="#c4c4c4"/><text x="4.6" y="1.2" font-size="7.2" font-weight="bold" fill="#fff" stroke="#d2d2d2" stroke-width="0.55" textLength="21" lengthAdjust="spacingAndGlyphs">TECH</text><rect x="5" y="2.6" width="19" height="1.1" fill="#ebebeb"/></g><g transform="translate(126.5 315.6) rotate(-26)"><rect x="-28.5" y="-4.3" width="24" height="8.8" fill="#d3d3d3"/><text x="-16.5" y="2.8" font-size="7.6" font-weight="bold" text-anchor="middle" fill="#fafafa" textLength="20" lengthAdjust="spacingAndGlyphs">STOP</text><circle cx="0" cy="0" r="3.3" fill="none" stroke="#cdcdcd" stroke-width="1.4"/><ellipse cx="0" cy="0" rx="1" ry="2" fill="#c4c4c4"/><text x="4.6" y="1.2" font-size="7.2" font-weight="bold" fill="#fff" stroke="#d2d2d2" stroke-width="0.55" textLength="21" lengthAdjust="spacingAndGlyphs">TECH</text><rect x="5" y="2.6" width="19" height="1.1" fill="#ebebeb"/></g><g transform="translate(162.5 314.5) rotate(-26)"><rect x="-28.5" y="-4.3" width="24" height="8.8" fill="#d3d3d3"/><text x="-16.5" y="2.8" font-size="7.6" font-weight="bold" text-anchor="middle" fill="#fafafa" textLength="20" lengthAdjust="spacingAndGlyphs">STOP</text><circle cx="0" cy="0" r="3.3" fill="none" stroke="#cdcdcd" stroke-width="1.4"/><ellipse cx="0" cy="0" rx="1" ry="2" fill="#c4c4c4"/><text x="4.6" y="1.2" font-size="7.2" font-weight="bold" fill="#fff" stroke="#d2d2d2" stroke-width="0.55" textLength="21" lengthAdjust="spacingAndGlyphs">TECH</text><rect x="5" y="2.6" width="19" height="1.1" fill="#ebebeb"/></g><g transform="translate(198.5 313.4) rotate(-26)"><rect x="-28.5" y="-4.3" width="24" height="8.8" fill="#d3d3d3"/><text x="-16.5" y="2.8" font-size="7.6" font-weight="bold" text-anchor="middle" fill="#fafafa" textLength="20" lengthAdjust="spacingAndGlyphs">STOP</text><circle cx="0" cy="0" r="3.3" fill="none" stroke="#cdcdcd" stroke-width="1.4"/><ellipse cx="0" cy="0" rx="1" ry="2" fill="#c4c4c4"/><text x="4.6" y="1.2" font-size="7.2" font-weight="bold" fill="#fff" stroke="#d2d2d2" stroke-width="0.55" textLength="21" lengthAdjust="spacingAndGlyphs">TECH</text><rect x="5" y="2.6" width="19" height="1.1" fill="#ebebeb"/></g><g transform="translate(234.5 312.3) rotate(-26)"><rect x="-28.5" y="-4.3" width="24" height="8.8" fill="#d3d3d3"/><text x="-16.5" y="2.8" font-size="7.6" font-weight="bold" text-anchor="middle" fill="#fafafa" textLength="20" lengthAdjust="spacingAndGlyphs">STOP</text><circle cx="0" cy="0" r="3.3" fill="none" stroke="#cdcdcd" stroke-width="1.4"/><ellipse cx="0" cy="0" rx="1" ry="2" fill="#c4c4c4"/><text x="4.6" y="1.2" font-size="7.2" font-weight="bold" fill="#fff" stroke="#d2d2d2" stroke-width="0.55" textLength="21" lengthAdjust="spacingAndGlyphs">TECH</text><rect x="5" y="2.6" width="19" height="1.1" fill="#ebebeb"/></g><g transform="translate(270.5 311.2) rotate(-26)"><rect x="-28.5" y="-4.3" width="24" height="8.8" fill="#d3d3d3"/><text x="-16.5" y="2.8" font-size="7.6" font-weight="bold" text-anchor="middle" fill="#fafafa" textLength="20" lengthAdjust="spacingAndGlyphs">STOP</text><circle cx="0" cy="0" r="3.3" fill="none" stroke="#cdcdcd" stroke-width="1.4"/><ellipse cx="0" cy="0" rx="1" ry="2" fill="#c4c4c4"/><text x="4.6" y="1.2" font-size="7.2" font-weight="bold" fill="#fff" stroke="#d2d2d2" stroke-width="0.55" textLength="21" lengthAdjust="spacingAndGlyphs">TECH</text><rect x="5" y="2.6" width="19" height="1.1" fill="#ebebeb"/></g><g transform="translate(306.5 310.1) rotate(-26)"><rect x="-28.5" y="-4.3" width="24" height="8.8" fill="#d3d3d3"/><text x="-16.5" y="2.8" font-size="7.6" font-weight="bold" text-anchor="middle" fill="#fafafa" textLength="20" lengthAdjust="spacingAndGlyphs">STOP</text><circle cx="0" cy="0" r="3.3" fill="none" stroke="#cdcdcd" stroke-width="1.4"/><ellipse cx="0" cy="0" rx="1" ry="2" fill="#c4c4c4"/><text x="4.6" y="1.2" font-size="7.2" font-weight="bold" fill="#fff" stroke="#d2d2d2" stroke-width="0.55" textLength="21" lengthAdjust="spacingAndGlyphs">TECH</text><rect x="5" y="2.6" width="19" height="1.1" fill="#ebebeb"/></g><g transform="translate(342.5 309.0) rotate(-26)"><rect x="-28.5" y="-4.3" width="24" height="8.8" fill="#d3d3d3"/><text x="-16.5" y="2.8" font-size="7.6" font-weight="bold" text-anchor="middle" fill="#fafafa" textLength="20" lengthAdjust="spacingAndGlyphs">STOP</text><circle cx="0" cy="0" r="3.3" fill="none" stroke="#cdcdcd" stroke-width="1.4"/><ellipse cx="0" cy="0" rx="1" ry="2" fill="#c4c4c4"/><text x="4.6" y="1.2" font-size="7.2" font-weight="bold" fill="#fff" stroke="#d2d2d2" stroke-width="0.55" textLength="21" lengthAdjust="spacingAndGlyphs">TECH</text><rect x="5" y="2.6" width="19" height="1.1" fill="#ebebeb"/></g><g transform="translate(378.5 307.9) rotate(-26)"><rect x="-28.5" y="-4.3" width="24" height="8.8" fill="#d3d3d3"/><text x="-16.5" y="2.8" font-size="7.6" font-weight="bold" text-anchor="middle" fill="#fafafa" textLength="20" lengthAdjust="spacingAndGlyphs">STOP</text><circle cx="0" cy="0" r="3.3" fill="none" stroke="#cdcdcd" stroke-width="1.4"/><ellipse cx="0" cy="0" rx="1" ry="2" fill="#c4c4c4"/><text x="4.6" y="1.2" font-size="7.2" font-weight="bold" fill="#fff" stroke="#d2d2d2" stroke-width="0.55" textLength="21" lengthAdjust="spacingAndGlyphs">TECH</text><rect x="5" y="2.6" width="19" height="1.1" fill="#ebebeb"/></g><g transform="translate(414.5 306.8) rotate(-26)"><rect x="-28.5" y="-4.3" width="24" height="8.8" fill="#d3d3d3"/><text x="-16.5" y="2.8" font-size="7.6" font-weight="bold" text-anchor="middle" fill="#fafafa" textLength="20" lengthAdjust="spacingAndGlyphs">STOP</text><circle cx="0" cy="0" r="3.3" fill="none" stroke="#cdcdcd" stroke-width="1.4"/><ellipse cx="0" cy="0" rx="1" ry="2" fill="#c4c4c4"/><text x="4.6" y="1.2" font-size="7.2" font-weight="bold" fill="#fff" stroke="#d2d2d2" stroke-width="0.55" textLength="21" lengthAdjust="spacingAndGlyphs">TECH</text><rect x="5" y="2.6" width="19" height="1.1" fill="#ebebeb"/></g><g transform="translate(450.5 305.7) rotate(-26)"><rect x="-28.5" y="-4.3" width="24" height="8.8" fill="#d3d3d3"/><text x="-16.5" y="2.8" font-size="7.6" font-weight="bold" text-anchor="middle" fill="#fafafa" textLength="20" lengthAdjust="spacingAndGlyphs">STOP</text><circle cx="0" cy="0" r="3.3" fill="none" stroke="#cdcdcd" stroke-width="1.4"/><ellipse cx="0" cy="0" rx="1" ry="2" fill="#c4c4c4"/><text x="4.6" y="1.2" font-size="7.2" font-weight="bold" fill="#fff" stroke="#d2d2d2" stroke-width="0.55" textLength="21" lengthAdjust="spacingAndGlyphs">TECH</text><rect x="5" y="2.6" width="19" height="1.1" fill="#ebebeb"/></g></g><g fill="none" stroke="#2b2b2b" stroke-width="1.2" stroke-linejoin="round"><path d="M242.35 162.2 C210 162.2 175 168 146 180.5 L144.2 182.8 L135.4 198.6 L123.3 198.6 L123.3 217.8 L131.4 217.8 L131.4 235.5 L135 239 L140.3 239 L166.4 254 L166.4 261 L207 261 C220 261 221 258 234 258 L242.35 258"/><path d="M 242.35 162.20 C 274.70 162.20 309.70 168.00 338.70 180.50 L 340.50 182.80 L 349.30 198.60 L 361.40 198.60 L 361.40 217.80 L 353.30 217.80 L 353.30 235.50 L 349.70 239.00 L 344.40 239.00 L 318.30 254.00 L 318.30 261.00 L 277.70 261.00 C 264.70 261.00 263.70 258.00 250.70 258.00 L 242.35 258.00"/><path d="M242.35 165 C210 165.5 176 171.5 147.5 183 L146 184.5 L134 205.5 L133.5 230.8 L137.4 234.2 L178 258.3 L207 258.3 C220 258.3 221 255.3 234 255.3 L242.35 255.3"/><path d="M 242.35 165.00 C 274.70 165.50 308.70 171.50 337.20 183.00 L 338.70 184.50 L 350.70 205.50 L 351.20 230.80 L 347.30 234.20 L 306.70 258.30 L 277.70 258.30 C 264.70 258.30 263.70 255.30 250.70 255.30 L 242.35 255.30"/><rect x="233.3" y="160" width="17.7" height="3"/><path d="M152.5 247.3 L163 253.4 L162.2 254.8 L151.7 248.7 Z" stroke-width="0.9"/><path d="M332.2 247.3 L321.7 253.4 L322.5 254.8 L333 248.7 Z" stroke-width="0.9"/></g><g fill="none" stroke="#666" stroke-width="0.8" stroke-dasharray="2.5 2"><path d="M242.35 168.2 C210 168.5 176 175.5 150.5 186 L147 190 L147 234 L154.5 240.5 C156 242 155.5 243.5 155 244 M165 248.5 C167 246.5 169 246.8 171 248 M229.5 168.6 C231.6 169.6 232.8 171.2 233.2 173.5 M151 188 L152.5 193"/><path d="M 242.35 168.20 C 274.70 168.50 308.70 175.50 334.20 186.00 L 337.70 190.00 L 337.70 234.00 L 330.20 240.50 C 328.70 242.00 329.20 243.50 329.70 244.00 M 319.70 248.50 C 317.70 246.50 315.70 246.80 313.70 248.00 M 255.20 168.60 C 253.10 169.60 251.90 171.20 251.50 173.50 M 333.70 188.00 L 332.20 193.00"/></g><g stroke="#b2b2b2" stroke-width="1.5" fill="none"><line x1="123.5" y1="128" x2="123.5" y2="187"/><line x1="360.8" y1="128" x2="360.8" y2="187"/><line x1="126" y1="130.8" x2="223.7" y2="130.8"/><line x1="259.7" y1="130.8" x2="358" y2="130.8"/><line x1="86" y1="162.2" x2="233" y2="162.2"/><line x1="86" y1="261" x2="155" y2="261"/><line x1="87.2" y1="165" x2="87.2" y2="205"/><line x1="87.2" y1="218" x2="87.2" y2="258"/><line x1="86" y1="291" x2="121" y2="291"/><line x1="86" y1="323" x2="129" y2="323"/><line x1="87" y1="294" x2="87" y2="300"/><line x1="87" y1="312" x2="87" y2="320"/></g><g fill="#222"><path d="M123.5 130.8 L130 128 L130 133.6 Z"/><path d="M360.8 130.8 L354.3 128 L354.3 133.6 Z"/><path d="M87 162.2 L84.3 169 L89.7 169 Z"/><path d="M87 261 L84.3 254.2 L89.7 254.2 Z"/><path d="M87 291 L84.5 297 L89.5 297 Z"/><path d="M87 323 L84.5 317 L89.5 317 Z"/></g><text x="224.5" y="133.4" font-size="10.8" font-weight="bold" font-style="italic" text-anchor="start" fill="#1a1a1a" textLength="34.5" lengthAdjust="spacingAndGlyphs">110.2</text><text x="75.5" y="215" font-size="10.8" font-weight="bold" font-style="italic" text-anchor="start" fill="#1a1a1a" textLength="27" lengthAdjust="spacingAndGlyphs">46.0</text><text x="75" y="309.6" font-size="10.8" font-weight="bold" font-style="italic" text-anchor="start" fill="#1a1a1a" textLength="27" lengthAdjust="spacingAndGlyphs">14.5</text><g fill="none" stroke="#2b2b2b" stroke-width="1.1"><rect x="123.6" y="291" width="237.8" height="11.4"/><line x1="135.6" y1="291" x2="135.6" y2="302.4"/><line x1="349" y1="291" x2="349" y2="302.4"/><rect x="133.4" y="302.4" width="217.6" height="20.6"/><rect x="233.6" y="290" width="17.4" height="11.4" fill="#fff"/></g><g fill="none" stroke="#777" stroke-width="0.8"><line x1="147" y1="290.2" x2="338" y2="290.2" stroke="#555" stroke-width="1.2"/><path d="M144.5 292 L147.5 294.8 L338 294.8"/><circle cx="151.8" cy="298.2" r="2.2" stroke="#333" stroke-width="1.3"/><circle cx="332.5" cy="298.2" r="2.2" stroke="#333" stroke-width="1.3"/></g><defs><linearGradient id="lf" x1="0" y1="0" x2="0" y2="1"><stop offset="0" stop-color="#9b968b"/><stop offset="1" stop-color="#958f85"/></linearGradient><linearGradient id="dfa" x1="0" y1="0" x2="1" y2="0.3"><stop offset="0" stop-color="#85878a"/><stop offset="0.4" stop-color="#929497"/><stop offset="1" stop-color="#7a7b7e"/></linearGradient><linearGradient id="dfb" x1="0" y1="0" x2="1" y2="0.3"><stop offset="0" stop-color="#727275"/><stop offset="0.6" stop-color="#78787b"/><stop offset="1" stop-color="#68686b"/></linearGradient></defs><path d="M428.9 119.2 C428.9 119.5 431.5 123.3 431.7 123.7 C431.9 124.1 434.3 129.1 435.0 129.4 C435.7 129.7 447.4 132.0 448.6 132.2 C449.8 132.4 464.4 133.3 465.5 133.3 C466.6 133.3 476.0 131.2 476.7 131.0 C477.4 130.8 481.6 128.0 481.8 127.7 C482.0 127.4 482.5 123.0 482.4 122.6 C482.3 122.2 479.5 118.9 479.0 118.7 C478.5 118.5 471.9 117.1 471.0 117.0 C470.1 116.9 457.7 115.1 456.5 115.0 C455.3 114.9 442.9 114.4 441.9 114.5 C440.9 114.6 432.2 116.2 431.7 116.4 C431.2 116.6 428.9 118.9 428.9 119.2 Z" fill="#3d3d3d"/><path d="M428.9 119.2 C428.9 119.0 431.2 116.6 431.7 116.4 C432.2 116.2 440.9 114.6 441.9 114.5 C442.9 114.4 455.3 114.9 456.5 115.0 C457.7 115.1 470.1 116.9 471.0 117.0 C471.9 117.1 478.6 118.5 479.0 118.7 C479.4 118.9 481.8 121.3 481.8 121.5 C481.8 121.7 479.7 124.7 479.0 124.9 C478.3 125.1 466.9 126.6 465.5 126.6 C464.1 126.6 444.4 125.1 443.0 124.9 C441.6 124.7 431.2 122.2 430.6 122.0 C430.0 121.8 428.9 119.4 428.9 119.2 Z" fill="url(#dfa)"/><path d="M402.5 140.0 C402.4 140.3 403.4 142.5 403.6 142.9 C403.8 143.3 407.3 150.2 408.0 150.7 C408.7 151.2 419.3 155.5 420.5 155.8 C421.7 156.1 436.1 157.5 437.4 157.5 C438.7 157.5 451.1 156.1 452.0 155.8 C452.9 155.5 458.9 151.1 459.3 150.7 C459.7 150.3 461.0 145.3 461.0 145.1 C461.0 144.9 460.6 144.8 460.4 144.6 C460.2 144.4 457.0 140.9 456.5 140.6 C456.0 140.3 449.6 137.0 448.6 136.7 C447.6 136.4 432.7 134.0 431.7 133.9 C430.7 133.8 424.9 133.2 423.9 133.3 C422.9 133.4 407.9 135.8 407.0 136.1 C406.1 136.4 402.6 139.7 402.5 140.0 Z" fill="#424243"/><path d="M402.5 140.0 C402.7 139.8 406.1 136.4 407.0 136.1 C407.9 135.8 422.9 133.4 423.9 133.3 C424.9 133.2 430.7 133.8 431.7 133.9 C432.7 134.0 447.6 136.4 448.6 136.7 C449.6 137.0 456.0 140.3 456.5 140.6 C457.0 140.9 460.5 144.3 460.4 144.6 C460.3 144.9 455.1 147.3 454.2 147.4 C453.3 147.5 439.0 146.9 437.4 146.8 C435.8 146.7 416.3 144.2 414.9 144.0 C413.5 143.8 403.5 142.5 403.0 142.3 C402.5 142.1 402.3 140.2 402.5 140.0 Z" fill="url(#dfb)"/><path d="M495.8 127.5 C495.4 128.1 493.1 130.6 493.2 131.4 C493.3 132.2 495.5 137.3 497.1 138.0 C498.7 138.7 512.8 140.8 515.5 141.2 C518.2 141.6 531.0 143.8 533.9 143.9 C536.8 144.0 552.9 142.3 554.9 141.9 C556.9 141.5 560.4 139.2 560.8 138.6 C561.2 138.0 560.2 134.5 560.1 134.0 C560.0 133.5 559.1 131.9 558.8 131.4 C558.5 130.9 557.1 128.0 556.2 127.5 C555.3 127.0 549.0 125.1 547.0 124.8 C545.0 124.5 531.1 123.1 528.6 122.9 C526.1 122.7 515.1 121.6 512.9 121.6 C510.7 121.6 499.7 123.1 498.4 123.5 C497.1 123.9 496.2 126.9 495.8 127.5 Z" fill="#363233"/><path d="M495.8 127.5 C495.9 127.3 497.8 123.7 498.4 123.5 C499.0 123.3 511.9 121.6 512.9 121.6 C513.9 121.6 527.5 122.8 528.6 122.9 C529.7 123.0 546.1 124.6 547.0 124.8 C547.9 125.0 555.8 127.3 556.2 127.5 C556.6 127.7 558.8 131.2 558.8 131.4 C558.8 131.6 558.2 133.9 557.5 134.0 C556.8 134.1 540.3 134.7 539.0 134.7 C537.7 134.7 520.6 134.8 519.4 134.7 C518.2 134.6 503.2 132.3 502.4 132.1 C501.6 131.9 496.0 130.3 495.8 130.1 C495.6 129.9 495.7 127.7 495.8 127.5 Z" fill="url(#lf)"/><line x1="528.6" y1="123.1" x2="519.4" y2="134.7" stroke="#4d4c49" stroke-width="1"/><path d="M469.6 148.5 C469.2 149.2 468.8 153.6 468.9 154.4 C469.0 155.2 469.9 158.7 470.9 159.6 C471.9 160.5 480.6 165.4 482.7 166.2 C484.8 167.0 497.1 170.3 499.7 170.8 C502.3 171.3 515.4 172.8 518.1 172.7 C520.8 172.6 534.7 170.7 536.5 170.1 C538.3 169.5 542.6 165.6 543.0 164.9 C543.4 164.2 542.0 161.6 541.7 161.0 C541.4 160.4 539.0 157.6 538.5 157.0 C538.0 156.4 536.1 153.1 535.2 152.4 C534.3 151.7 528.0 148.4 526.0 147.8 C524.0 147.2 510.3 144.8 507.6 144.5 C504.9 144.2 491.6 143.2 489.2 143.2 C486.8 143.2 476.2 144.1 474.8 144.5 C473.4 144.9 470.0 147.8 469.6 148.5 Z" fill="#3e393a"/><path d="M469.6 148.5 C469.8 148.2 474.1 144.7 474.8 144.5 C475.5 144.3 488.1 143.2 489.2 143.2 C490.3 143.2 506.4 144.3 507.6 144.5 C508.8 144.7 525.1 147.5 526.0 147.8 C526.9 148.1 534.8 152.1 535.2 152.4 C535.6 152.7 538.5 156.7 538.5 157.0 C538.5 157.3 537.1 160.2 536.5 160.3 C535.9 160.4 520.7 160.9 519.4 160.9 C518.1 160.9 498.5 159.2 497.1 159.0 C495.7 158.8 477.0 155.9 476.1 155.7 C475.2 155.5 469.8 153.2 469.6 153.0 C469.4 152.8 469.4 148.8 469.6 148.5 Z" fill="url(#lf)"/><line x1="508.3" y1="144.9" x2="497.1" y2="159" stroke="#4d4c49" stroke-width="1"/><path d="M601.4 109.6 L625.0 111.0 L649.7 110.2 L658.7 118.0 L659.5 124.5 L663.8 124.7 L663.8 129.8 L659.0 130.0 L656.5 134.9 L643.0 140.3 L625.0 141.3 L608.0 140.3 L591.0 132.6 L590.5 128.7 L586.7 128.7 L586.7 123.0 L589.6 123.0 L589.6 116.9 Z" fill="#3a3a3c"/><path d="M601.4 109.6 C602.8 109.4 623.1 111.0 625.0 111.0 C626.9 111.0 648.4 109.9 649.7 110.2 C651.0 110.5 658.4 117.0 658.7 118.0 C659.0 119.0 657.1 134.0 656.5 134.9 C655.9 135.8 644.3 140.0 643.0 140.3 C641.7 140.6 626.4 141.3 625.0 141.3 C623.6 141.3 609.4 140.6 608.0 140.3 C606.6 140.0 591.7 133.5 591.0 132.6 C590.3 131.7 589.2 117.8 589.6 116.9 C590.0 116.0 600.0 109.8 601.4 109.6 Z" fill="#3d3d3e"/><path d="M600.1 177.9 L623.7 176.6 L648.4 177.3 L657.4 169.6 L658.2 163.1 L662.5 162.8 L662.5 157.8 L657.7 157.6 L655.2 152.6 L641.7 147.2 L623.7 146.2 L606.7 147.2 L589.7 154.9 L589.2 158.9 L585.4 158.9 L585.4 164.6 L588.3 164.6 L588.3 170.6 Z" fill="#3a3a3c"/><path d="M600.1 177.9 C601.5 178.2 621.8 176.6 623.7 176.6 C625.6 176.5 647.1 177.6 648.4 177.3 C649.7 177.1 657.1 170.5 657.4 169.6 C657.7 168.6 655.8 153.5 655.2 152.6 C654.6 151.8 643.0 147.5 641.7 147.2 C640.4 147.0 625.1 146.2 623.7 146.2 C622.3 146.2 608.1 146.9 606.7 147.2 C605.3 147.6 590.4 154.0 589.7 154.9 C589.0 155.9 587.9 169.7 588.3 170.6 C588.7 171.6 598.7 177.7 600.1 177.9 Z" fill="#47464b"/><path d="M683.7 111.2 L707.3 112.6 L732.0 111.8 L741.0 119.6 L741.8 126.1 L746.1 126.3 L746.1 131.4 L741.3 131.6 L738.8 136.5 L725.3 141.9 L707.3 142.9 L690.3 141.9 L673.3 134.2 L672.8 130.3 L669.0 130.3 L669.0 124.6 L671.9 124.6 L671.9 118.5 Z" fill="#3f3f3f"/><path d="M683.7 111.2 C685.1 111.0 705.4 112.6 707.3 112.6 C709.2 112.6 730.7 111.5 732.0 111.8 C733.3 112.1 740.7 118.6 741.0 119.6 C741.3 120.6 739.4 135.6 738.8 136.5 C738.2 137.4 726.6 141.6 725.3 141.9 C724.0 142.2 708.7 142.9 707.3 142.9 C705.9 142.9 691.7 142.2 690.3 141.9 C688.9 141.6 674.0 135.1 673.3 134.2 C672.6 133.3 671.5 119.4 671.9 118.5 C672.3 117.6 682.3 111.4 683.7 111.2 Z" fill="#9b9994" stroke="#74726e" stroke-width="1.1"/><line x1="706.7" y1="112.0" x2="706.7" y2="142.1" stroke="#333" stroke-width="1.3"/><path d="M683.7 178.1 L707.3 176.6 L732.0 177.4 L741.0 169.6 L741.8 163.1 L746.1 162.9 L746.1 157.8 L741.3 157.6 L738.8 152.8 L725.3 147.3 L707.3 146.3 L690.3 147.3 L673.3 155.1 L672.8 158.9 L669.0 158.9 L669.0 164.6 L671.9 164.6 L671.9 170.8 Z" fill="#3f3f3f"/><path d="M683.7 178.1 C685.1 178.3 705.4 176.7 707.3 176.6 C709.2 176.6 730.7 177.7 732.0 177.4 C733.3 177.2 740.7 170.6 741.0 169.6 C741.3 168.7 739.4 153.6 738.8 152.8 C738.2 151.9 726.6 147.6 725.3 147.3 C724.0 147.1 708.7 146.3 707.3 146.3 C705.9 146.3 691.7 147.0 690.3 147.3 C688.9 147.7 674.0 154.1 673.3 155.1 C672.6 156.0 671.5 169.8 671.9 170.8 C672.3 171.7 682.3 177.8 683.7 178.1 Z" fill="#a09d98" stroke="#74726e" stroke-width="1.1"/><line x1="706.1" y1="147.1" x2="706.1" y2="177.2" stroke="#333" stroke-width="1.3"/><path d="M401.7 296.8 L410.2 296.8 L414.7 295.7 L552.0 295.7 L554.8 296.8 L563.8 296.8 L563.8 303.0 L554.8 303.0 L554.8 317.4 L484.5 317.4 L484.5 308.5 L481.6 308.5 L481.6 317.2 L410.2 317.2 L410.2 303.0 L401.7 303.0 Z" fill="#393838"/><rect x="416" y="296.6" width="27" height="2.2" fill="#727272"/><rect x="410.2" y="303" width="144.6" height="1" fill="#38393a"/><rect x="39" y="411" width="344" height="29.3" fill="#000"/><rect x="386" y="411" width="211" height="29.3" fill="#000"/><rect x="600" y="411" width="162" height="29.3" fill="#000"/><text x="49" y="429.8" font-size="16.6" font-weight="bold" font-style="normal" text-anchor="start" fill="#fff" textLength="150.5" lengthAdjust="spacingAndGlyphs">Inner Brake Pads Specs</text><text x="222" y="429.8" font-size="16.6" font-weight="bold" font-style="normal" text-anchor="start" fill="#fff" textLength="153.5" lengthAdjust="spacingAndGlyphs">Outer Brake Pads Specs</text><text x="470" y="429.8" font-size="16.6" font-weight="bold" font-style="normal" text-anchor="start" fill="#fff" textLength="42.5" lengthAdjust="spacingAndGlyphs">FMSI #</text><text x="638.5" y="429.8" font-size="16.6" font-weight="bold" font-style="normal" text-anchor="start" fill="#fff" textLength="85" lengthAdjust="spacingAndGlyphs">Related Parts</text><g font-size="11" font-weight="bold" fill="#000" stroke="#000" stroke-width="0.15"><text x="157.8" y="453.2" text-anchor="end" transform="translate(157.8 0) scale(0.905 1) translate(-157.8 0)">Inner Pad Width:</text><text x="161" y="453.2" transform="translate(161 0) scale(0.905 1) translate(-161 0)">110.2</text><text x="157.8" y="469" text-anchor="end" transform="translate(157.8 0) scale(0.905 1) translate(-157.8 0)">Inner Pad Height:</text><text x="161" y="469" transform="translate(161 0) scale(0.905 1) translate(-161 0)">46</text><text x="157.8" y="484.8" text-anchor="end" transform="translate(157.8 0) scale(0.905 1) translate(-157.8 0)">Inner Pad Thk w/o Shim:</text><text x="161" y="484.8" transform="translate(161 0) scale(0.905 1) translate(-161 0)">14.5</text><text x="157.8" y="500.6" text-anchor="end" transform="translate(157.8 0) scale(0.905 1) translate(-157.8 0)">Sensor Wire Length:</text><text x="334.5" y="453.2" text-anchor="end" transform="translate(334.5 0) scale(0.905 1) translate(-334.5 0)">Outer Pad Width:</text><text x="338.5" y="453.2" transform="translate(338.5 0) scale(0.905 1) translate(-338.5 0)">110.2</text><text x="334.5" y="469" text-anchor="end" transform="translate(334.5 0) scale(0.905 1) translate(-334.5 0)">Outer Pad Height:</text><text x="338.5" y="469" transform="translate(338.5 0) scale(0.905 1) translate(-338.5 0)">46</text><text x="334.5" y="484.8" text-anchor="end" transform="translate(334.5 0) scale(0.905 1) translate(-334.5 0)">Outer Pad Thk w/o Shim:</text><text x="338.5" y="484.8" transform="translate(338.5 0) scale(0.905 1) translate(-338.5 0)">14.5</text><text x="392" y="453.20" transform="translate(392 0) scale(0.88 1) translate(-392 0)">FMSI:</text><text x="423" y="453.20" transform="translate(423 0) scale(0.88 1) translate(-423 0)">7337D457</text><text x="496.5" y="453.20" transform="translate(496.5 0) scale(0.88 1) translate(-496.5 0)">FMSI:</text><text x="392" y="469.03" transform="translate(392 0) scale(0.88 1) translate(-392 0)">FMSI:</text><text x="423" y="469.03" transform="translate(423 0) scale(0.88 1) translate(-423 0)">7337D525</text><text x="496.5" y="469.03" transform="translate(496.5 0) scale(0.88 1) translate(-496.5 0)">FMSI:</text><text x="392" y="484.86" transform="translate(392 0) scale(0.88 1) translate(-392 0)">FMSI:</text><text x="423" y="484.86" transform="translate(423 0) scale(0.88 1) translate(-423 0)">7348D468</text><text x="496.5" y="484.86" transform="translate(496.5 0) scale(0.88 1) translate(-496.5 0)">FMSI:</text><text x="392" y="500.69" transform="translate(392 0) scale(0.88 1) translate(-392 0)">FMSI:</text><text x="423" y="500.69" transform="translate(423 0) scale(0.88 1) translate(-423 0)">D457</text><text x="496.5" y="500.69" transform="translate(496.5 0) scale(0.88 1) translate(-496.5 0)">FMSI:</text><text x="392" y="516.52" transform="translate(392 0) scale(0.88 1) translate(-392 0)">FMSI:</text><text x="423" y="516.52" transform="translate(423 0) scale(0.88 1) translate(-423 0)">D468</text><text x="496.5" y="516.52" transform="translate(496.5 0) scale(0.88 1) translate(-496.5 0)">FMSI:</text><text x="392" y="532.35" transform="translate(392 0) scale(0.88 1) translate(-392 0)">FMSI:</text><text x="423" y="532.35" transform="translate(423 0) scale(0.88 1) translate(-423 0)">D525</text><text x="496.5" y="532.35" transform="translate(496.5 0) scale(0.88 1) translate(-496.5 0)">FMSI:</text><text x="392" y="548.18" transform="translate(392 0) scale(0.88 1) translate(-392 0)">FMSI:</text><text x="496.5" y="548.18" transform="translate(496.5 0) scale(0.88 1) translate(-496.5 0)">FMSI:</text><text x="604" y="453.2" transform="translate(604 0) scale(0.88 1) translate(-604 0)">Hardware Kit #:</text></g><defs><linearGradient id="tri" x1="0" y1="0" x2="0" y2="1"><stop offset="0" stop-color="#f2b0b0"/><stop offset="0.6" stop-color="#fbe6e6"/><stop offset="1" stop-color="#ffffff"/></linearGradient></defs><path d="M68 556.3 L80.3 577.6 L55.7 577.6 Z" fill="#c33a3a" stroke="#b52a2a" stroke-width="1" stroke-linejoin="round"/><path d="M68 560 L77.2 575.6 L58.8 575.6 Z" fill="url(#tri)"/><rect x="67" y="563.8" width="2.1" height="7.5" fill="#111"/><rect x="67" y="572.6" width="2.1" height="2" fill="#111"/><text x="96.8" y="566.5" font-size="14" font-weight="bold" font-style="normal" text-anchor="start" fill="#111" textLength="40.5" lengthAdjust="spacingAndGlyphs">Note 1:</text><text x="96.8" y="585.3" font-size="14" font-weight="bold" font-style="normal" text-anchor="start" fill="#111" textLength="40.5" lengthAdjust="spacingAndGlyphs">Note 2:</text></svg></body></html>
